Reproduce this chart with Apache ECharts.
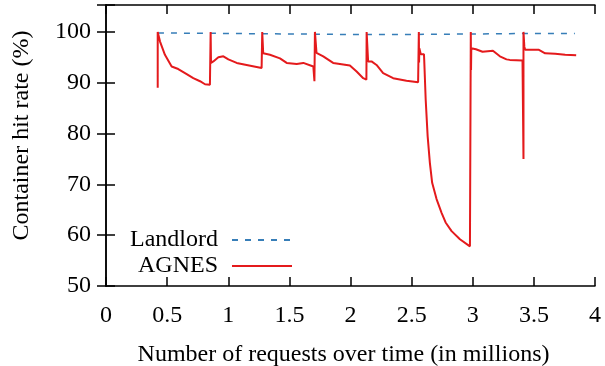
<!DOCTYPE html>
<html>
<head>
<meta charset="utf-8">
<script src="https://cdn.jsdelivr.net/npm/echarts@6/dist/echarts.min.js"></script>
<style>
  html, body { margin: 0; padding: 0; background: #fff; }
  #grafico { width: 605px; height: 366px; }
</style>
</head>
<body>
<div id="grafico"></div>
<script>
// dados
var xLandlord = [0.425, 1.0, 1.5, 2.0, 2.5, 3.0, 3.5, 3.835];
var yLandlord = [99.8, 99.7, 99.6, 99.5, 99.5, 99.6, 99.7, 99.7];

var xAgnes = [
    0.423, 0.423, 0.442, 0.482, 0.537, 0.591, 0.660, 0.714, 0.769, 0.810, 0.850,
    0.856, 0.859, 0.878, 0.919, 0.960, 1.001, 1.069, 1.150, 1.273,
    1.278, 1.286, 1.341, 1.423, 1.478, 1.560, 1.614, 1.696, 1.705,
    1.709, 1.722, 1.777, 1.858, 1.913, 1.995, 2.050, 2.104, 2.130,
    2.132, 2.144, 2.172, 2.213, 2.267, 2.349, 2.458, 2.553,
    2.559, 2.561, 2.563, 2.575, 2.601, 2.603, 2.615, 2.631, 2.649, 2.668, 2.704, 2.745, 2.778, 2.827, 2.895, 2.977,
    2.984, 2.986, 2.988, 2.990, 3.026, 3.080, 3.165, 3.222, 3.276, 3.303, 3.407,
    3.415, 3.415, 3.422, 3.429, 3.483, 3.538, 3.592, 3.674, 3.756, 3.846
];
var yAgnes = [
    89.0, 100, 98.1, 95.5, 93.2, 92.7, 91.7, 90.9, 90.3, 89.7, 89.6,
    100, 93.9, 94.2, 95.0, 95.2, 94.6, 93.9, 93.5, 92.9,
    100, 95.8, 95.5, 94.8, 93.9, 93.7, 93.9, 93.2, 90.3,
    100, 95.9, 95.2, 93.9, 93.7, 93.4, 92.2, 90.9, 90.6,
    100, 94.2, 94.2, 93.5, 91.9, 90.9, 90.4, 90.1,
    100, 94.0, 96.8, 95.6, 95.6, 94.5, 86.7, 79.5, 74.3, 70.3, 67.1, 64.4, 62.5, 60.8, 59.2, 57.8,
    100, 92.5, 96.8, 96.5, 96.6, 96.1, 96.3, 95.2, 94.6, 94.5, 94.4,
    75.0, 100, 97.1, 96.5, 96.5, 96.5, 95.8, 95.7, 95.5, 95.4
];

var ticksX = [0, 0.5, 1, 1.5, 2, 2.5, 3, 3.5, 4];
var ticksY = [50, 60, 70, 80, 90, 100];

var fonte = "Liberation Serif";
var tamanho = 24;

function juntar(xs, ys) {
    return xs.map((x, i) => [x, ys[i]]);
}

var eixoBase = {
    type: "value",
    axisLine: { show: true, lineStyle: { color: "#000", width: 1.5 } },
    axisTick: { show: true, inside: true, length: 9, lineStyle: { color: "#000", width: 1.5 } },
    splitLine: { show: false }
};

var myChart = echarts.init(document.getElementById("grafico"), null, { renderer: "canvas" });

var option = {
    animation: false,
    backgroundColor: "#fff",
    textStyle: { fontFamily: fonte, fontSize: tamanho, color: "#000" },
    grid: { left: 106, right: 10, top: 5, bottom: 80, outerBoundsMode: "none", containLabel: false },
    xAxis: [
        Object.assign({}, eixoBase, {
            position: "bottom",
            min: ticksX[0],
            max: ticksX[ticksX.length - 1],
            interval: 0.5,
            name: "Number of requests over time (in millions)",
            nameLocation: "middle",
            nameGap: 57,
            nameTextStyle: { fontFamily: fonte, fontSize: tamanho, color: "#000", padding: [0, 14, 0, 0] },
            axisLabel: { fontFamily: fonte, fontSize: tamanho, color: "#000", margin: 18 }
        }),
        Object.assign({}, eixoBase, {
            position: "top",
            min: ticksX[0],
            max: ticksX[ticksX.length - 1],
            interval: 0.5,
            axisLabel: { show: false }
        })
    ],
    yAxis: [
        Object.assign({}, eixoBase, {
            position: "left",
            min: ticksY[0],
            max: 105.3,
            interval: 10,
            name: "Container hit rate (%)",
            nameLocation: "middle",
            nameGap: 72,
            nameTextStyle: { fontFamily: fonte, fontSize: tamanho, color: "#000", padding: [0, 0, 0, 20] },
            axisLabel: {
                fontFamily: fonte, fontSize: tamanho, color: "#000", margin: 15,
                formatter: v => ticksY.indexOf(v) >= 0 ? String(v) : ""
            }
        }),
        Object.assign({}, eixoBase, {
            position: "right",
            min: ticksY[0],
            max: 105.3,
            interval: 10,
            axisLabel: { show: false }
        })
    ],
    legend: {
        orient: "vertical",
        left: 113,
        top: 223,
        align: "right",
        itemWidth: 60,
        itemHeight: 14,
        itemGap: 2,
        itemStyle: { opacity: 0 },
        data: ["Landlord", "AGNES"],
        formatter: nome => "{t|" + nome + "}",
        textStyle: {
            rich: {
                t: { width: 100, align: "right", padding: [0, 9, 0, 0], fontFamily: fonte, fontSize: tamanho, color: "#000", lineHeight: 23 }
            }
        }
    },
    series: [
        {
            name: "Landlord",
            type: "line",
            data: juntar(xLandlord, yLandlord),
            symbol: "none",
            color: "#377eb8",
            lineStyle: { color: "#377eb8", width: 1.5, type: [6, 7] },
            z: 3
        },
        {
            name: "AGNES",
            type: "line",
            data: juntar(xAgnes, yAgnes),
            symbol: "none",
            color: "#e41a1c",
            lineStyle: { color: "#e41a1c", width: 2 },
            z: 4
        }
    ]
};

myChart.setOption(option);
</script>
</body>
</html>
